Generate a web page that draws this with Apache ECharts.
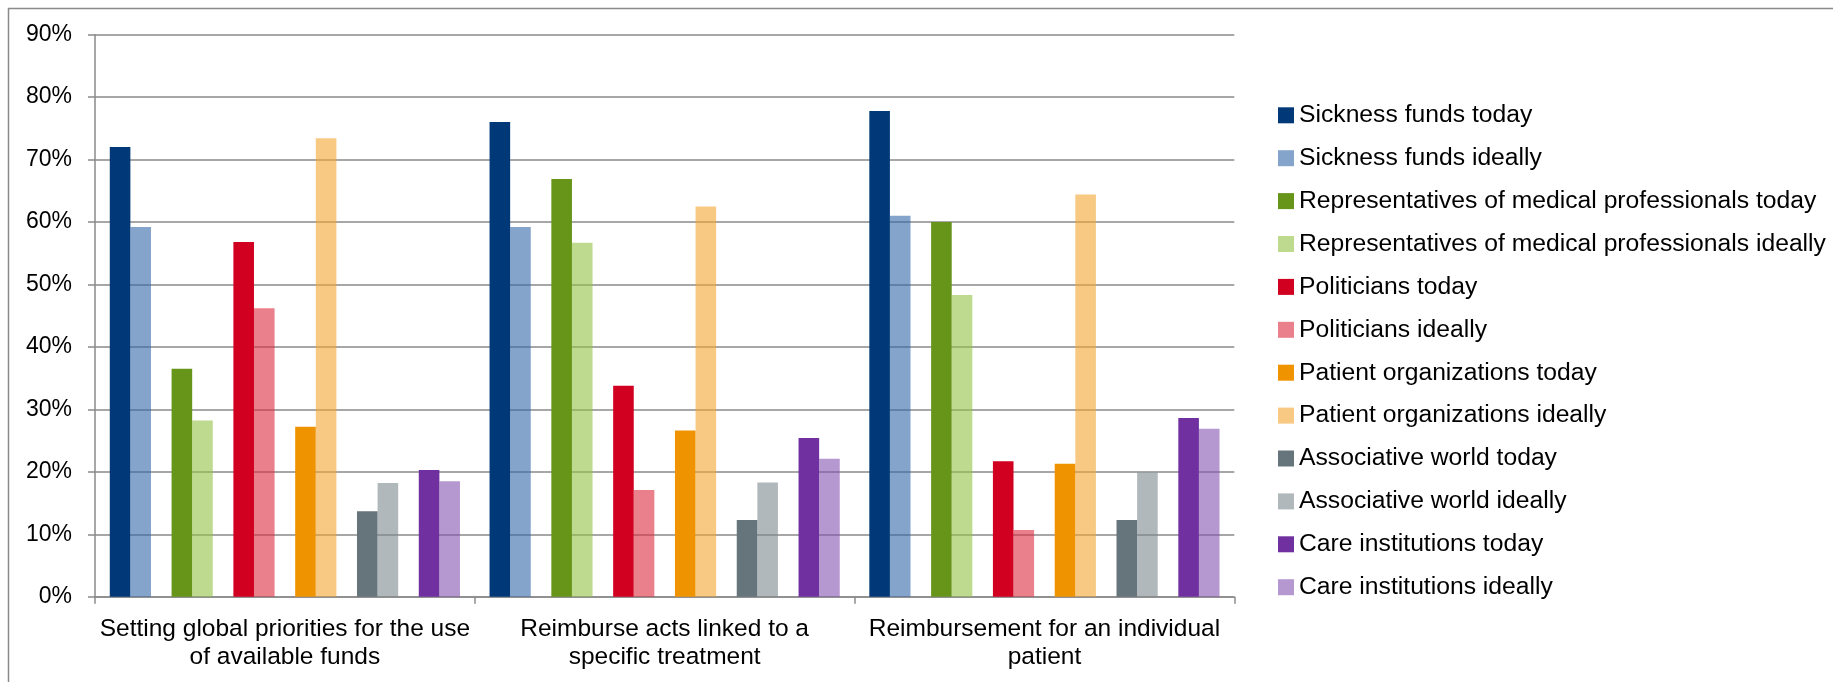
<!DOCTYPE html>
<html>
<head>
<meta charset="utf-8">
<script src="https://cdn.jsdelivr.net/npm/echarts@6/dist/echarts.min.js"></script>
<style>
html,body{margin:0;padding:0;background:#fff;}
#chart{width:1833px;height:682px;}
</style>
</head>
<body>
<div id="chart"></div>
<script>
// ---- data ----
var categories = [
  'Setting global priorities for the use\nof available funds',
  'Reimburse acts linked to a\nspecific treatment',
  'Reimbursement for an individual\npatient'
];
var yTicks = [0, 10, 20, 30, 40, 50, 60, 70, 80, 90];

var actors = ['Sickness funds', 'Representatives of medical professionals', 'Politicians',
              'Patient organizations', 'Associative world', 'Care institutions'];

var sicknessToday    = [72.0, 76.0, 77.8];
var sicknessIdeally  = [59.2, 59.2, 61.0];
var repsToday        = [36.5, 66.9, 60.0];
var repsIdeally      = [28.2, 56.7, 48.3];
var politiciansToday = [56.8, 33.8, 21.7];
var politiciansIdeally = [46.2, 17.1, 10.7];
var patientsToday    = [27.2, 26.6, 21.3];
var patientsIdeally  = [73.4, 62.5, 64.4];
var associativeToday = [13.7, 12.3, 12.3];
var associativeIdeally = [18.2, 18.3, 19.9];
var careToday        = [20.3, 25.4, 28.6];
var careIdeally      = [18.5, 22.1, 26.9];

var todayValues   = [sicknessToday, repsToday, politiciansToday, patientsToday, associativeToday, careToday];
var ideallyValues = [sicknessIdeally, repsIdeally, politiciansIdeally, patientsIdeally, associativeIdeally, careIdeally];

// ---- styles ----
var todayColors   = ['#003878', '#66951a', '#d20020', '#f09300', '#66747c', '#7030a0'];
var ideallyColors = ['rgba(50,103,170,0.6)', 'rgba(147,193,68,0.6)', 'rgba(218,43,63,0.6)',
                     'rgba(242,165,47,0.6)', 'rgba(125,137,142,0.6)', 'rgba(132,83,177,0.6)'];

var FONT = '"Liberation Sans", Arial, sans-serif';
var GRAY = '#8a8a8a';
var BW = 20.6;

var series = [];
var legendNames = [];
actors.forEach(function (a, i) {
  var nT = a + ' today', nI = a + ' ideally';
  legendNames.push(nT, nI);
  series.push({
    name: nT, type: 'bar', data: todayValues[i], barWidth: BW, barGap: '0%',
    itemStyle: { color: todayColors[i] }
  });
  series.push({
    name: nI, type: 'bar', data: ideallyValues[i], barWidth: BW, barGap: '0%',
    itemStyle: { color: ideallyColors[i] }
  });
  if (i < actors.length - 1) {
    series.push({
      name: 'spacer' + i, type: 'bar', data: categories.map(function () { return null; }),
      barWidth: BW, barGap: '0%', silent: true, itemStyle: { color: 'rgba(0,0,0,0)' }
    });
  }
});

var chart = echarts.init(document.getElementById('chart'), null, { renderer: 'canvas' });
chart.setOption({
  animation: false,
  backgroundColor: '#fff',
  textStyle: { fontFamily: FONT },
  graphic: [{
    type: 'rect', silent: true, z: 100,
    shape: { x: 8.5, y: 8.5, width: 2000, height: 1000 },
    style: { fill: 'none', stroke: GRAY, lineWidth: 1.5 }
  }],
  grid: { left: 95, right: 598.7, top: 34.7, bottom: 85.3, containLabel: false },
  legend: {
    orient: 'vertical', left: 1273, top: 97.8,
    itemWidth: 16, itemHeight: 16, itemGap: 17.9,
    icon: 'rect',
    data: legendNames,
    selectedMode: false,
    textStyle: { fontFamily: FONT, fontSize: 24.7, lineHeight: 25, color: '#000' }
  },
  xAxis: {
    type: 'category', data: categories,
    axisLine: { lineStyle: { color: GRAY, width: 1.5 } },
    axisTick: { show: true, length: 7, lineStyle: { color: GRAY, width: 1.5 } },
    axisLabel: {
      interval: 0, margin: 19, color: '#000', fontFamily: FONT, fontSize: 24.5, lineHeight: 28,
      align: 'center'
    },
    splitLine: { show: false }
  },
  yAxis: {
    type: 'value', min: yTicks[0], max: yTicks[yTicks.length - 1], interval: yTicks[1] - yTicks[0],
    axisLine: { show: true, lineStyle: { color: GRAY, width: 1.5 } },
    axisTick: { show: true, length: 7, lineStyle: { color: GRAY, width: 1.5 } },
    axisLabel: {
      margin: 23, color: '#000', fontFamily: FONT, fontSize: 23,
      padding: [9, 0, 0, 0],
      formatter: function (v) { return v + '%'; }
    },
    splitLine: { show: true, lineStyle: { color: GRAY, width: 1.5 } }
  },
  series: series
});
</script>
</body>
</html>
